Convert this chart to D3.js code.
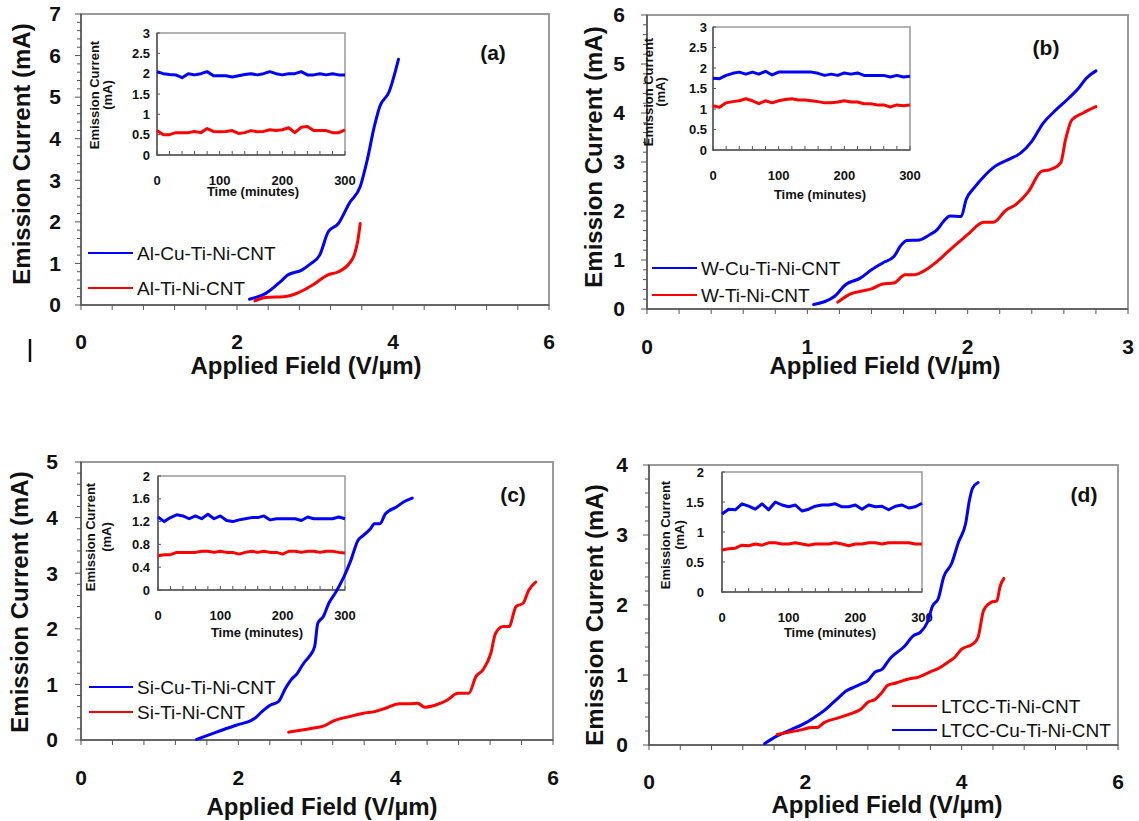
<!DOCTYPE html>
<html lang="en">
<head>
    <meta charset="UTF-8">
    <title>Emission current vs applied field</title>
    <script src="https://d3js.org/d3.v7.min.js"></script>
    <style>
        body { margin: 0; background: #fff; }
        svg text { font-family: "Liberation Sans", Arial, sans-serif; fill: #111; }
        .tick-label { font-size: 21px; font-weight: bold; }
        .axis-title { font-size: 24px; font-weight: bold; }
        .legend-text { font-size: 19px; }
        .panel-letter { font-size: 21px; font-weight: bold; }
        .inset-text { font-size: 13px; font-weight: bold; }
    </style>
</head>
<body>
<svg width="1139" height="821"></svg>
<script>
    // ---- field emission curves: [applied field (V/um), emission current (mA)]
    const alCuTiNi = [[2.16,0.14],[2.37,0.28],[2.55,0.55],[2.65,0.72],[2.83,0.84],[2.95,1.0],[3.06,1.2],[3.17,1.76],[3.30,1.96],[3.44,2.45],[3.58,2.85],[3.67,3.49],[3.76,4.29],[3.83,4.77],[3.95,5.13],[4.07,5.91]];
    const alTiNi = [[2.23,0.1],[2.37,0.18],[2.6,0.2],[2.79,0.3],[2.97,0.48],[3.16,0.72],[3.30,0.8],[3.44,1.0],[3.51,1.24],[3.55,1.56],[3.58,1.96]];

    const wCuTiNi = [[1.04,0.09],[1.17,0.26],[1.24,0.5],[1.33,0.63],[1.40,0.8],[1.47,0.94],[1.54,1.07],[1.58,1.28],[1.62,1.4],[1.70,1.41],[1.76,1.51],[1.81,1.62],[1.85,1.79],[1.89,1.9],[1.96,1.89],[1.99,2.23],[2.04,2.47],[2.10,2.7],[2.17,2.91],[2.26,3.06],[2.33,3.18],[2.40,3.42],[2.47,3.79],[2.54,4.03],[2.63,4.3],[2.69,4.5],[2.74,4.71],[2.80,4.86]];
    const wTiNi = [[1.19,0.14],[1.27,0.31],[1.33,0.36],[1.40,0.41],[1.47,0.51],[1.54,0.53],[1.61,0.7],[1.67,0.7],[1.74,0.8],[1.81,0.97],[1.88,1.18],[1.95,1.38],[2.01,1.55],[2.10,1.77],[2.16,1.77],[2.24,2.02],[2.30,2.13],[2.38,2.40],[2.46,2.81],[2.51,2.84],[2.58,2.98],[2.61,3.45],[2.65,3.86],[2.72,4.0],[2.80,4.13]];

    const siCuTiNi = [[1.47,0.01],[1.74,0.15],[1.98,0.27],[2.16,0.35],[2.21,0.39],[2.30,0.51],[2.41,0.63],[2.51,0.69],[2.60,0.93],[2.67,1.08],[2.75,1.2],[2.83,1.38],[2.90,1.5],[2.97,1.68],[3.01,2.1],[3.08,2.22],[3.15,2.46],[3.24,2.66],[3.34,2.93],[3.43,3.23],[3.52,3.59],[3.59,3.68],[3.68,3.8],[3.73,3.89],[3.80,3.89],[3.87,4.07],[4.01,4.19],[4.10,4.28],[4.21,4.35]];
    const siTiNi = [[2.64,0.14],[2.81,0.18],[2.94,0.21],[3.08,0.25],[3.22,0.35],[3.41,0.42],[3.59,0.48],[3.73,0.51],[3.87,0.57],[4.05,0.65],[4.19,0.65],[4.28,0.66],[4.37,0.59],[4.51,0.63],[4.66,0.72],[4.79,0.84],[4.93,0.84],[5.02,1.14],[5.11,1.26],[5.21,1.56],[5.27,1.92],[5.37,2.04],[5.44,2.04],[5.53,2.4],[5.62,2.46],[5.69,2.69],[5.78,2.84]];

    const ltccCuTiNi = [[1.48,0.02],[1.64,0.13],[1.82,0.22],[2.01,0.32],[2.15,0.42],[2.24,0.49],[2.33,0.58],[2.43,0.68],[2.52,0.77],[2.61,0.82],[2.71,0.87],[2.80,0.92],[2.89,1.04],[2.98,1.08],[3.08,1.23],[3.17,1.32],[3.26,1.4],[3.38,1.56],[3.47,1.61],[3.56,1.75],[3.63,1.99],[3.70,2.09],[3.77,2.4],[3.87,2.59],[3.96,2.9],[4.05,3.16],[4.10,3.5],[4.14,3.67],[4.21,3.75]];
    const ltccTiNi = [[1.64,0.15],[1.78,0.18],[1.96,0.22],[2.08,0.25],[2.15,0.25],[2.24,0.32],[2.43,0.39],[2.61,0.46],[2.71,0.51],[2.80,0.61],[2.89,0.65],[2.98,0.75],[3.05,0.85],[3.17,0.89],[3.31,0.94],[3.45,0.97],[3.59,1.04],[3.73,1.11],[3.82,1.18],[3.91,1.25],[4.00,1.37],[4.14,1.44],[4.21,1.54],[4.28,1.92],[4.38,2.04],[4.45,2.06],[4.49,2.26],[4.54,2.38]];

    // ---- stability insets: current (mA) every 10 minutes
    const insetTime = d3.range(0, 301, 10);
    const alCuStab = [2.05,2.0,1.98,1.97,1.9,2.0,1.97,2.0,2.05,1.95,1.95,1.95,1.92,1.95,1.98,2.0,1.97,2.0,2.05,2.0,1.97,2.0,2.0,2.05,1.97,1.97,2.0,1.97,2.0,1.97,1.97];
    const alStab = [0.6,0.5,0.5,0.55,0.55,0.55,0.58,0.55,0.65,0.58,0.57,0.58,0.6,0.53,0.55,0.6,0.57,0.58,0.62,0.6,0.62,0.67,0.55,0.68,0.7,0.6,0.6,0.6,0.55,0.55,0.62];
    const wCuStab = [1.75,1.74,1.82,1.87,1.9,1.85,1.9,1.85,1.92,1.83,1.9,1.9,1.9,1.9,1.9,1.9,1.87,1.82,1.85,1.82,1.88,1.85,1.88,1.82,1.82,1.82,1.82,1.78,1.82,1.78,1.8];
    const wStab = [1.08,1.04,1.15,1.18,1.2,1.25,1.2,1.13,1.2,1.15,1.2,1.23,1.25,1.22,1.22,1.2,1.18,1.15,1.15,1.17,1.2,1.17,1.17,1.13,1.13,1.1,1.1,1.05,1.1,1.08,1.1];
    const siCuStab = [1.28,1.2,1.27,1.32,1.3,1.25,1.3,1.25,1.33,1.25,1.3,1.22,1.2,1.23,1.25,1.27,1.27,1.3,1.23,1.25,1.25,1.25,1.25,1.22,1.28,1.25,1.25,1.25,1.25,1.28,1.25];
    const siStab = [0.6,0.62,0.62,0.66,0.66,0.66,0.66,0.68,0.68,0.66,0.68,0.66,0.66,0.63,0.66,0.68,0.66,0.68,0.66,0.66,0.63,0.68,0.68,0.66,0.68,0.68,0.66,0.68,0.68,0.66,0.65];
    const ltccCuStab = [1.3,1.38,1.37,1.47,1.43,1.38,1.47,1.37,1.5,1.45,1.42,1.45,1.35,1.38,1.43,1.45,1.45,1.47,1.42,1.42,1.45,1.38,1.45,1.42,1.43,1.37,1.43,1.45,1.4,1.42,1.48];
    const ltccStab = [0.7,0.72,0.73,0.78,0.77,0.8,0.78,0.82,0.82,0.8,0.8,0.82,0.8,0.78,0.8,0.8,0.8,0.82,0.8,0.77,0.8,0.8,0.82,0.82,0.8,0.82,0.82,0.82,0.82,0.8,0.8];

    const BLUE = "#0000ff", RED = "#ff0000";

    // layout of each panel (pixels)
    const panels = [
        { letter: "(a)", left: 81, right: 549, top: 14, bottom: 305, xMax: 6, yMax: 7, xMinor: 0.4, xMajor: 2,
          yLabRight: 61, xLabY: 342, xTitle: [306, 366], yTitle: [22, 154], letterPos: [493, 53],
          curves: [{ data: alCuTiNi, color: BLUE }, { data: alTiNi, color: RED }],
          legend: { x1: 88, x2: 133, ys: [253, 288], items: [["Al-Cu-Ti-Ni-CNT", BLUE], ["Al-Ti-Ni-CNT", RED]] },
          inset: { left: 157, right: 345, top: 33, bottom: 155, yMax: 3, yStep: 0.5, labRight: 150, xLabY: 180, titleXY: [253, 191],
                   yl1: 94, yl2: 107, ylY: 95, series: [[alCuStab, BLUE], [alStab, RED]] } },
        { letter: "(b)", left: 647, right: 1128, top: 15, bottom: 309, xMax: 3, yMax: 6, xMinor: 0.2, xMajor: 1,
          yLabRight: 625, xLabY: 347, xTitle: [885, 366], yTitle: [594, 157], letterPos: [1046, 48],
          curves: [{ data: wCuTiNi, color: BLUE }, { data: wTiNi, color: RED }],
          legend: { x1: 652, x2: 697, ys: [268, 295], items: [["W-Cu-Ti-Ni-CNT", BLUE], ["W-Ti-Ni-CNT", RED]] },
          inset: { left: 713, right: 910, top: 27, bottom: 150, yMax: 3, yStep: 0.5, labRight: 707, xLabY: 175, titleXY: [820, 194],
                   yl1: 648, yl2: 660, ylY: 92, series: [[wCuStab, BLUE], [wStab, RED]] } },
        { letter: "(c)", left: 81, right: 553, top: 462, bottom: 740, xMax: 6, yMax: 5, xMinor: 0.4, xMajor: 2,
          yLabRight: 58, xLabY: 778, xTitle: [322, 807], yTitle: [20, 602], letterPos: [513, 495],
          curves: [{ data: siCuTiNi, color: BLUE }, { data: siTiNi, color: RED }],
          legend: { x1: 89, x2: 133, ys: [687, 712], items: [["Si-Cu-Ti-Ni-CNT", BLUE], ["Si-Ti-Ni-CNT", RED]] },
          inset: { left: 158, right: 345, top: 476, bottom: 590, yMax: 2, yStep: 0.4, labRight: 150, xLabY: 615, titleXY: [257, 632],
                   yl1: 90, yl2: 106, ylY: 537, series: [[siCuStab, BLUE], [siStab, RED]] } },
        { letter: "(d)", left: 649, right: 1118, top: 465, bottom: 745, xMax: 6, yMax: 4, xMinor: 0.4, xMajor: 2,
          yLabRight: 628, xLabY: 782, xTitle: [887, 805], yTitle: [595, 615], letterPos: [1084, 495],
          curves: [{ data: ltccCuTiNi, color: BLUE }, { data: ltccTiNi, color: RED }],
          legend: { x1: 892, x2: 937, ys: [706, 730], items: [["LTCC-Ti-Ni-CNT", RED], ["LTCC-Cu-Ti-Ni-CNT", BLUE]] },
          inset: { left: 722, right: 922, top: 472, bottom: 592, yMax: 2, yStep: 0.5, labRight: 704, xLabY: 617, titleXY: [830, 632],
                   yl1: 665, yl2: 679, ylY: 535, series: [[ltccCuStab, BLUE], [ltccStab, RED]] } }
    ];

    const svg = d3.select("svg");
    svg.append("rect").attr("width", 1139).attr("height", 821).attr("fill", "#fff");

    function drawInset(g, p) {
        const ins = p.inset;
        const x = d3.scaleLinear().domain([0, 300]).range([ins.left, ins.right]);
        const y = d3.scaleLinear().domain([0, ins.yMax]).range([ins.bottom, ins.top]);

        g.append("rect")
            .attr("x", ins.left).attr("y", ins.top)
            .attr("width", ins.right - ins.left).attr("height", ins.bottom - ins.top)
            .attr("fill", "#fff").attr("stroke", "#999").attr("stroke-width", 1.5);
        g.append("path")
            .attr("d", `M${ins.left},${ins.top}V${ins.bottom}H${ins.right}`)
            .attr("fill", "none").attr("stroke", "#555").attr("stroke-width", 1.5);

        // minor ticks along time axis (every 20 min, pointing inward)
        g.selectAll(null).data(d3.range(0, 301, 20)).join("line")
            .attr("x1", d => x(d)).attr("x2", d => x(d))
            .attr("y1", ins.bottom).attr("y2", ins.bottom - 4)
            .attr("stroke", "#555");
        const yTicks = d3.range(0, ins.yMax + 1e-9, ins.yStep);
        g.selectAll(null).data(yTicks).join("line")
            .attr("x1", ins.left).attr("x2", ins.left + 3)
            .attr("y1", d => y(d)).attr("y2", d => y(d))
            .attr("stroke", "#555");

        g.selectAll(null).data(yTicks).join("text")
            .attr("class", "inset-text")
            .attr("x", ins.labRight).attr("y", d => y(d)).attr("dy", "0.35em")
            .attr("text-anchor", "end")
            .text(d => d3.format("~g")(+d.toFixed(1)));
        g.selectAll(null).data([0, 100, 200, 300]).join("text")
            .attr("class", "inset-text")
            .attr("x", d => x(d)).attr("y", ins.xLabY).attr("dy", "0.35em")
            .attr("text-anchor", "middle")
            .text(d => d);
        g.append("text").attr("class", "inset-text")
            .attr("x", ins.titleXY[0]).attr("y", ins.titleXY[1]).attr("dy", "0.35em")
            .attr("text-anchor", "middle").text("Time (minutes)");
        g.append("text").attr("class", "inset-text")
            .attr("transform", `translate(${ins.yl1},${ins.ylY}) rotate(-90)`)
            .attr("dy", "0.35em").attr("text-anchor", "middle").text("Emission Current");
        g.append("text").attr("class", "inset-text")
            .attr("transform", `translate(${ins.yl2},${ins.ylY}) rotate(-90)`)
            .attr("dy", "0.35em").attr("text-anchor", "middle").text("(mA)");

        const line = d3.line()
            .x((d, i) => x(insetTime[i]))
            .y(d => y(d));
        ins.series.forEach(([vals, color]) => {
            g.append("path").attr("d", line(vals))
                .attr("fill", "none").attr("stroke", color)
                .attr("stroke-width", 3).attr("stroke-linejoin", "round");
        });
    }

    panels.forEach(p => {
        const g = svg.append("g");
        const x = d3.scaleLinear().domain([0, p.xMax]).range([p.left, p.right]);
        const y = d3.scaleLinear().domain([0, p.yMax]).range([p.bottom, p.top]);

        // frame + axes
        g.append("rect")
            .attr("x", p.left).attr("y", p.top)
            .attr("width", p.right - p.left).attr("height", p.bottom - p.top)
            .attr("fill", "none").attr("stroke", "#9a9a9a").attr("stroke-width", 2);
        g.append("path")
            .attr("d", `M${p.left},${p.top}V${p.bottom}H${p.right}`)
            .attr("fill", "none").attr("stroke", "#555").attr("stroke-width", 1.5);

        // y ticks every 0.2
        g.selectAll(null).data(d3.range(0, p.yMax + 1e-9, 0.2)).join("line")
            .attr("x1", d => Math.abs(d - Math.round(d)) < 1e-6 ? p.left - 6 : p.left - 4)
            .attr("x2", p.left)
            .attr("y1", d => y(d)).attr("y2", d => y(d))
            .attr("stroke", "#555");
        g.selectAll(null).data(d3.range(0, p.yMax + 1)).join("text")
            .attr("class", "tick-label")
            .attr("x", p.yLabRight).attr("y", d => y(d)).attr("dy", "0.35em")
            .attr("text-anchor", "end").text(d => d);

        // x ticks
        g.selectAll(null).data(d3.range(0, p.xMax + 1e-9, p.xMinor)).join("line")
            .attr("x1", d => x(d)).attr("x2", d => x(d))
            .attr("y1", p.bottom).attr("y2", p.bottom + 5)
            .attr("stroke", "#555");
        g.selectAll(null).data(d3.range(0, p.xMax + 1e-9, p.xMajor)).join("text")
            .attr("class", "tick-label")
            .attr("x", d => x(d)).attr("y", p.xLabY).attr("dy", "0.35em")
            .attr("text-anchor", "middle").text(d => d);

        g.append("text").attr("class", "axis-title")
            .attr("x", p.xTitle[0]).attr("y", p.xTitle[1]).attr("dy", "0.35em")
            .attr("text-anchor", "middle").text("Applied Field (V/\u00b5m)");
        g.append("text").attr("class", "axis-title")
            .attr("transform", `translate(${p.yTitle[0]},${p.yTitle[1]}) rotate(-90)`)
            .attr("dy", "0.35em").attr("text-anchor", "middle").text("Emission Current (mA)");

        g.append("text").attr("class", "panel-letter")
            .attr("x", p.letterPos[0]).attr("y", p.letterPos[1]).attr("dy", "0.35em")
            .attr("text-anchor", "middle").text(p.letter);

        drawInset(g, p);

        // legend
        p.legend.items.forEach(([label, color], i) => {
            const ly = p.legend.ys[i];
            g.append("line")
                .attr("x1", p.legend.x1).attr("x2", p.legend.x2)
                .attr("y1", ly).attr("y2", ly)
                .attr("stroke", color).attr("stroke-width", 2);
            g.append("text").attr("class", "legend-text")
                .attr("x", p.legend.x2 + 4).attr("y", ly).attr("dy", "0.35em")
                .text(label);
        });

        // main curves on top of the inset
        const line = d3.line()
            .x(d => x(d[0])).y(d => y(d[1]))
            .curve(d3.curveMonotoneX);
        p.curves.forEach(c => {
            g.append("path").attr("d", line(c.data))
                .attr("fill", "none").attr("stroke", c.color)
                .attr("stroke-width", 3).attr("stroke-linecap", "round")
                .attr("stroke-linejoin", "round");
        });
    });

    // stray mark under panel (a)
    svg.append("line")
        .attr("x1", 30).attr("x2", 30).attr("y1", 339).attr("y2", 362)
        .attr("stroke", "#111").attr("stroke-width", 2.5);
</script>
</body>
</html>
